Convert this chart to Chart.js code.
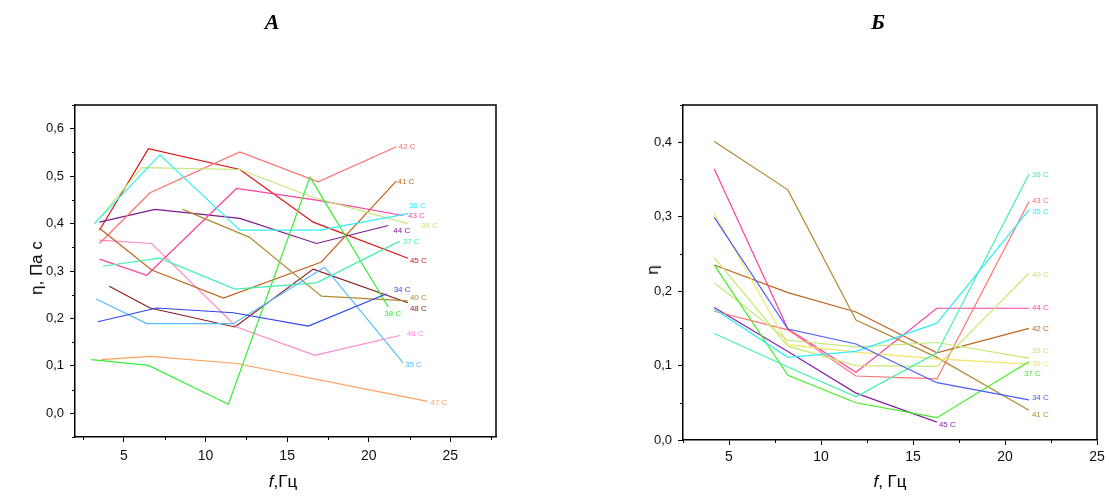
<!DOCTYPE html>
<html><head><meta charset="utf-8">
<script src="https://cdn.jsdelivr.net/npm/chart.js@4.4.0/dist/chart.umd.min.js"></script>
<style>
html,body{margin:0;padding:0;background:#fff;width:1109px;height:496px;overflow:hidden;}
#wrap{position:relative;width:1109px;height:496px;}
canvas{position:absolute;top:0;}
#cA{left:0;} #cB{left:560px;}
.t{position:absolute;font-family:"Liberation Sans",Arial,sans-serif;color:#000;white-space:nowrap;font-size:17px;}
.letter{font-family:"Liberation Serif","Times New Roman",serif;font-weight:bold;font-style:italic;font-size:22px;transform:translate(-50%,-50%);}
.xt{transform:translate(-50%,-50%);}
.yt{transform:translate(-50%,-50%) rotate(-90deg);}
</style></head>
<body><div id="wrap">
<canvas id="cA" width="560" height="496"></canvas>
<canvas id="cB" width="549" height="496"></canvas>
<div class="t letter" style="left:272px;top:22px;">А</div>
<div class="t letter" style="left:878px;top:22px;">Б</div>
<div class="t yt" style="left:37px;top:268px;">η, Па с</div>
<div class="t xt" style="left:283px;top:482px;"><i>f</i>,Гц</div>
<div class="t yt" style="left:653px;top:270px;">η</div>
<div class="t xt" style="left:890px;top:482px;"><i>f</i>, Гц</div>
</div>
<script>
// ---- Panel A data: [f (Hz), viscosity] ----
const a34 = [[3.4,0.193],[7.0,0.222],[11.7,0.212],[16.3,0.184],[21.1,0.252]];
const a35 = [[3.3,0.241],[6.4,0.189],[11.7,0.189],[17.3,0.308],[22.1,0.107]];
const a36 = [[3.2,0.400],[7.2,0.545],[12.1,0.386],[17.0,0.386],[22.4,0.421]];
const a37 = [[3.7,0.310],[7.2,0.327],[11.8,0.262],[16.8,0.275],[21.9,0.363]];
const a38 = [[3.0,0.113],[6.5,0.101],[11.4,0.019],[16.4,0.498],[21.2,0.224]];
const a39 = [[3.2,0.400],[6.1,0.518],[12.1,0.514],[16.6,0.455],[22.4,0.400]];
const a40 = [[8.6,0.430],[12.7,0.371],[17.1,0.247],[22.4,0.237]];
const a41 = [[3.5,0.390],[6.7,0.302],[11.1,0.243],[17.1,0.319],[21.7,0.490]];
const a42 = [[3.5,0.358],[6.6,0.465],[12.1,0.551],[16.9,0.488],[21.7,0.562]];
const a43 = [[3.5,0.325],[6.4,0.291],[11.9,0.474],[16.9,0.449],[22.1,0.417]];
const a44 = [[3.5,0.403],[6.9,0.430],[12.1,0.411],[16.8,0.358],[21.2,0.396]];
const a45 = [[3.5,0.386],[6.5,0.558],[12.1,0.514],[16.6,0.403],[22.4,0.327]];
const a46 = [[3.5,0.365],[6.7,0.358],[11.9,0.182],[16.7,0.122],[21.9,0.164]];
const a47 = [[3.6,0.113],[6.6,0.120],[11.9,0.105],[23.6,0.025]];
const a48 = [[4.1,0.268],[6.6,0.222],[11.8,0.182],[16.6,0.304],[22.4,0.233]];

// ---- Panel B data ----
const bX  = [4.2, 8.2, 11.9, 16.3, 21.3];
const b34 = [0.299, 0.149, 0.129, 0.077, 0.054];
const b35 = [0.176, 0.111, 0.119, 0.157, 0.309];
const b36 = [0.143, 0.098, 0.058, 0.117, 0.357];
const b37 = [0.235, 0.087, 0.050, 0.030, 0.105];
const b38 = [0.211, 0.134, 0.125, 0.131, 0.110];
const b39 = [0.305, 0.128, 0.118, 0.109, 0.102];
const b40 = [0.245, 0.126, 0.100, 0.099, 0.224];
const b41 = [0.401, 0.336, 0.161, 0.111, 0.040];
const b42 = [0.235, 0.198, 0.172, 0.117, 0.150];
const b43 = [0.173, 0.148, 0.086, 0.082, 0.320];
const b44 = [0.364, 0.149, 0.091, 0.177, 0.177];
const b45 = [0.178, 0.119, 0.063, 0.024];

// ---- tick label values ----
const aYTicks = [0, 0.1, 0.2, 0.3, 0.4, 0.5, 0.6];
const bYTicks = [0, 0.1, 0.2, 0.3, 0.4];
const xTicksLabeled = [5, 10, 15, 20, 25];

const seriesA = [
  {label:'34 C', d:a34, c:'#2f45f0', off:[7,-4]},
  {label:'35 C', d:a35, c:'#55bbff', off:[2,2]},
  {label:'36 C', d:a36, c:'#30eef8', off:[1,-8]},
  {label:'37 C', d:a37, c:'#44f0b0', off:[3,1]},
  {label:'38 C', d:a38, c:'#33ee33', off:[-4,7]},
  {label:'39 C', d:a39, c:'#c4e878', off:[13,2]},
  {label:'40 C', d:a40, c:'#b08a30', off:[2,-3]},
  {label:'41 C', d:a41, c:'#c0641e', off:[1,1]},
  {label:'42 C', d:a42, c:'#ff7070', off:[2,0]},
  {label:'43 C', d:a43, c:'#ff40a0', off:[5,0]},
  {label:'44 C', d:a44, c:'#7a1a8a', off:[5,5]},
  {label:'45 C', d:a45, c:'#dd1111', off:[2,3]},
  {label:'46 C', d:a46, c:'#ff88cc', off:[7,-2]},
  {label:'47 C', d:a47, c:'#ffa060', off:[3,1]},
  {label:'48 C', d:a48, c:'#8b1a1a', off:[2,6]}
];
const seriesB = [
  {label:'34 C', d:b34, c:'#4a5cff', off:[3,-2]},
  {label:'35 C', d:b35, c:'#30eef8', off:[3,2]},
  {label:'36 C', d:b36, c:'#40f0b0', off:[3,1]},
  {label:'37 C', d:b37, c:'#44ee22', off:[-5,12]},
  {label:'38 C', d:b38, c:'#c4e878', off:[3,-7]},
  {label:'39 C', d:b39, c:'#f0e868', off:[3,0]},
  {label:'40 C', d:b40, c:'#c8e870', off:[3,2]},
  {label:'41 C', d:b41, c:'#b08a30', off:[3,5]},
  {label:'42 C', d:b42, c:'#c0641e', off:[3,0]},
  {label:'43 C', d:b43, c:'#ff7070', off:[3,-1]},
  {label:'44 C', d:b44, c:'#ff40a0', off:[3,0]},
  {label:'45 C', d:b45, c:'#8a22a8', off:[2,3]}
];

const near = (a,b)=>Math.abs(a-b)<1e-6;
const isMajY = (v, list)=>list.some(t=>near(t,v));
const isMajX = v=>xTicksLabeled.some(t=>near(t,v));

const endLabels = {
  id:'endLabels',
  afterDatasetsDraw(chart){
    const ctx = chart.ctx;
    ctx.save();
    ctx.font = '8px "Liberation Sans", Arial, sans-serif';
    ctx.textBaseline = 'middle'; ctx.textAlign = 'left';
    chart.data.datasets.forEach((ds,i)=>{
      const meta = chart.getDatasetMeta(i);
      const p = meta.data[meta.data.length-1];
      ctx.fillStyle = ds.borderColor;
      ctx.fillText(ds.label, p.x + ds.off[0], p.y + ds.off[1]);
    });
    ctx.restore();
  }
};
const frame = {
  id:'frame',
  afterDraw(chart){
    const {ctx, chartArea:a, scales} = chart;
    ctx.save();
    ctx.strokeStyle='#000'; ctx.lineWidth=1.5;
    ctx.beginPath(); ctx.moveTo(a.left-0.5,a.top); ctx.lineTo(a.right,a.top); ctx.lineTo(a.right,a.bottom); ctx.stroke();
    ctx.lineWidth=1;
    ctx.beginPath();
    const ys = scales.y, xs = scales.x, yl = chart.options.yMajor;
    ys.ticks.forEach(t=>{ if(!isMajY(t.value, yl)){ const p=Math.round(ys.getPixelForValue(t.value))+0.5; ctx.moveTo(a.left,p); ctx.lineTo(a.left-3,p);} });
    xs.ticks.forEach(t=>{ if(!isMajX(t.value)){ const p=Math.round(xs.getPixelForValue(t.value))+0.5; ctx.moveTo(p,a.bottom); ctx.lineTo(p,a.bottom+3);} });
    ctx.stroke();
    ctx.restore();
  }
};

function makeChart(id, series, toXY, xr, yr, yMajor, pad, yW, xH, xPad){
  return new Chart(document.getElementById(id), {
    type:'scatter',
    data:{datasets: series.map(s=>({label:s.label, data:toXY(s.d), borderColor:s.c, backgroundColor:s.c, off:s.off,
      showLine:true, pointRadius:0, borderWidth:1.2, tension:0, fill:false}))},
    options:{
      responsive:false, animation:false, devicePixelRatio:1,
      yMajor: yMajor,
      layout:{padding:pad},
      plugins:{legend:{display:false}, tooltip:{enabled:false}, title:{display:false}},
      scales:{
        x:{type:'linear', min:xr[0], max:xr[1],
          afterFit:s=>{s.height=xH;},
          border:{display:true, color:'#000', width:1.5},
          grid:{drawOnChartArea:false, drawTicks:true, tickLength:5,
            tickColor:c=> (c.tick && isMajX(c.tick.value)) ? '#000' : 'rgba(0,0,0,0)'},
          ticks:{stepSize:2.5, includeBounds:false, autoSkip:false, maxRotation:0, padding:xPad, color:'#111',
            font:{family:'"Liberation Sans", Arial, sans-serif', size:14},
            callback:v=> isMajX(v) ? String(Math.round(v)) : ''}
        },
        y:{type:'linear', min:yr[0], max:yr[1],
          afterFit:s=>{s.width=yW;},
          border:{display:true, color:'#000', width:1.5},
          grid:{drawOnChartArea:false, drawTicks:true, tickLength:5,
            tickColor:c=> (c.tick && isMajY(c.tick.value, yMajor)) ? '#000' : 'rgba(0,0,0,0)'},
          ticks:{stepSize:0.05, includeBounds:false, autoSkip:false, padding:6, color:'#111',
            font:{family:'"Liberation Sans", Arial, sans-serif', size:13},
            callback:v=> isMajY(v, yMajor) ? v.toFixed(1).replace('.', ',') : ''}
        }
      }
    },
    plugins:[endLabels, frame]
  });
}

makeChart('cA', seriesA, d=>d.map(p=>({x:p[0], y:p[1]})), [2, 27.8], [-0.05, 0.65], aYTicks,
  {left:0, right:64, top:105, bottom:0}, 75, 59, 6);
makeChart('cB', seriesB, d=>d.map((v,i)=>({x:bX[i], y:v})), [2.5, 25], [0, 0.45], bYTicks,
  {left:0, right:12, top:105, bottom:0}, 123, 56, 4);
</script>
</body></html>
